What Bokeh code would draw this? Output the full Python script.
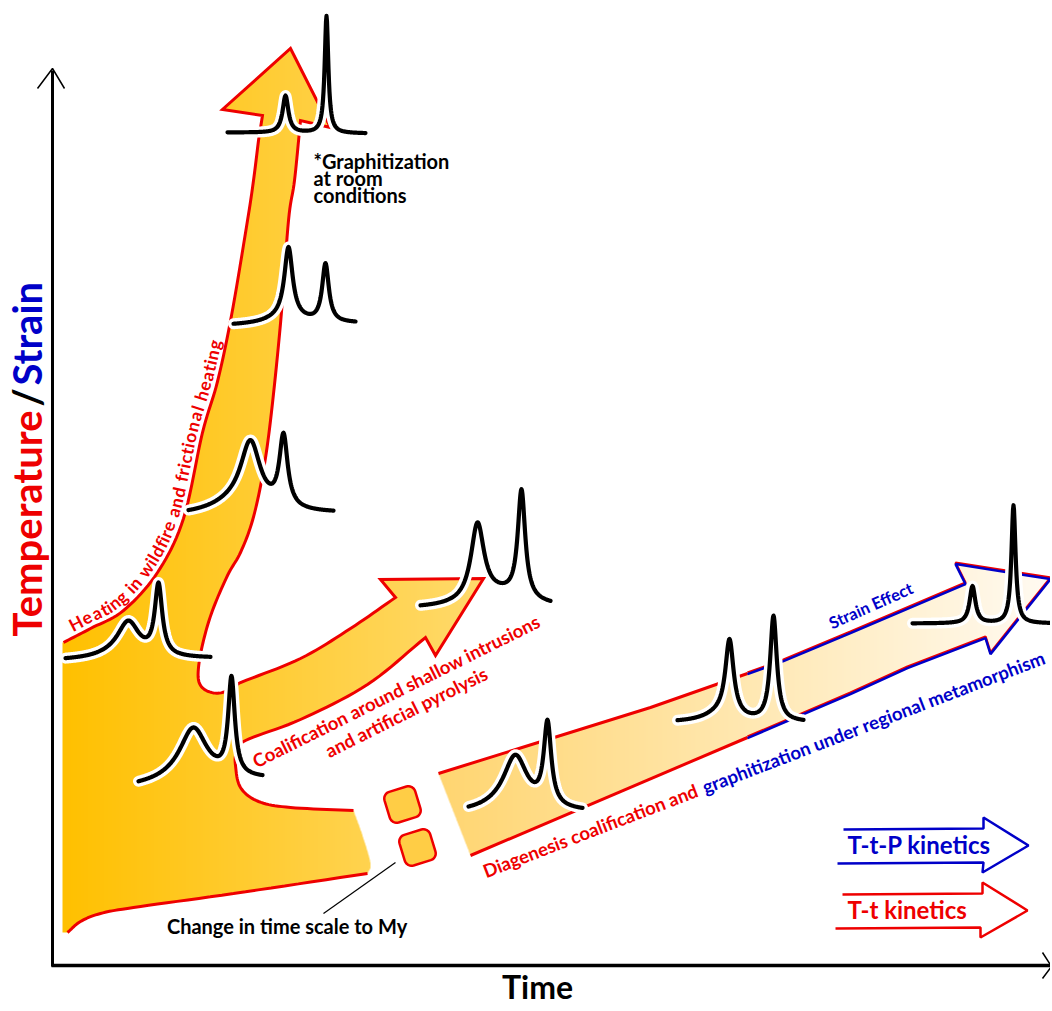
import numpy as np
from bokeh.plotting import figure
from bokeh.models import Range1d
from bokeh.embed import file_html
from bokeh.resources import INLINE
from bokeh.core.properties import value

# ------------------------------------------------------------------
# Values (pixel units of the picture)
# ------------------------------------------------------------------
heat_left = [(63, 642), (90, 628), (123, 610), (157, 572), (183, 518), (202, 432),
             (217, 381), (231, 315), (247, 220), (253, 180), (258, 140)]
heat_head = [(262, 115), (222, 109), (290, 48), (330, 127), (300, 120)]
heat_right = [(300, 120), (294, 180), (288, 220), (280, 323), (270, 420), (262, 475),
              (252, 520), (240, 552), (227, 575), (212, 610), (203, 640), (198, 667),
              (199, 683), (208, 691), (222, 692), (240, 682)]
coal_upper = [(240, 682), (300, 658), (350, 628), (395, 597)]
coal_head = [(380, 579), (483, 578), (435, 655), (425, 637)]
coal_lower = [(425, 637), (367, 684), (300, 719), (245, 740), (236, 752), (235, 765),
              (240, 787), (258, 801), (290, 807), (353, 810)]
block_right = [(353, 810), (362, 835), (370, 863), (367, 873)]
block_bottom = [(367, 873), (233, 893), (133, 907), (100, 913), (80, 921), (67, 932)]
block_left = [(62, 932), (62, 642)]

diag_shape = [(438, 773), (650, 707), (710, 686), (783, 660), (850, 632), (965, 583),
              (955, 563), (1050, 578), (990, 653), (985, 637), (907, 667), (850, 693),
              (745, 738), (470, 855)]
diag_red_upper = [(438, 773), (650, 707), (747, 673)]
diag_blue = [(747, 673), (783, 660), (850, 632), (965, 583), (955, 563), (1050, 578),
             (990, 653), (985, 637), (907, 667), (850, 693), (747, 737)]
diag_red_lower = [(747, 737), (470, 855)]

square_cx = [402, 417]
square_cy = [804, 847]

ttp_arrow = [(843, 829), (983, 828), (983, 817), (1028, 845), (982, 872), (983, 862), (837, 863)]
tt_arrow = [(842, 894), (982, 893), (982, 882), (1027, 910), (980, 937), (980, 927), (835, 928)]

# Raman spectra: x-span, baseline levels, peaks (centre, height, half width)
spec_start = [227, 233, 188, 65, 138, 420, 468, 677, 912]
spec_end = [365, 355, 333, 210, 262, 550, 582, 803, 1052]
spec_base_start = [132, 325, 515, 660, 787, 608, 813, 722, 623]
spec_base_end = [133, 323, 513, 658, 780, 607, 812, 722, 623]
spec_peaks = [
    [(285, 37, 3.5), (326, 117, 2.2)],
    [(285, 7, 22), (288, 70, 5), (325, 58, 4)],
    [(235, 10, 30), (250, 65, 12), (283, 71, 5)],
    [(120, 5, 25), (128, 33, 13), (158, 70, 4.5)],
    [(190, 10, 30), (193, 46, 16), (231, 96, 4)],
    [(500, 12, 30), (477, 77, 8), (521, 108, 4.5)],
    [(510, 8, 30), (515, 49, 14), (547, 82, 4.5)],
    [(720, 8, 20), (729, 76, 5), (773, 105, 4)],
    [(972, 37, 3.5), (1013, 118, 2.5)],
]

labels = ["*Graphitization", "at room", "conditions", "Change in time scale  to My",
          "Coalification around shallow intrusions", "and artificial pyrolysis",
          "Strain Effect", "T-t-P kinetics", "T-t kinetics", "Time"]
heating_label = "Heating in wildfire and frictional heating"
diag_label_red = "Diagenesis coalification and"
diag_label_blue = "graphitization under regional metamorphism"
yaxis_parts = ["Temperature", "/", "Strain"]

# ------------------------------------------------------------------
FONT = value("Lato")
RED = "#ee0000"
BLUE = "#0000c8"
H_IMG = 1011
BASE_SHIFT = 0.39   # renderer draws the alphabetic baseline this many em below the anchor


def Y(y):
    return H_IMG - np.asarray(y, dtype=float)


def smooth(pts, n=10):
    P = np.array(pts, dtype=float)
    if len(P) < 3:
        return P
    ext = np.vstack([2 * P[0] - P[1], P, 2 * P[-1] - P[-2]])
    out = []
    for i in range(1, len(ext) - 2):
        p0, p1, p2, p3 = ext[i - 1], ext[i], ext[i + 1], ext[i + 2]
        for t in np.linspace(0, 1, n, endpoint=False):
            t2, t3 = t * t, t * t * t
            out.append(0.5 * ((2 * p1) + (-p0 + p2) * t + (2 * p0 - 5 * p1 + 4 * p2 - p3) * t2
                              + (-p0 + 3 * p1 - 3 * p2 + p3) * t3))
    out.append(P[-1])
    return np.array(out)


def inside(px, py, poly):
    x = poly[:, 0]
    y = poly[:, 1]
    n = len(poly)
    res = np.zeros(px.shape, dtype=bool)
    j = n - 1
    for i in range(n):
        xi, yi, xj, yj = x[i], y[i], x[j], y[j]
        if yi != yj:
            cond = ((yi > py) != (yj > py)) & (px < (xj - xi) * (py - yi) / (yj - yi) + xi)
            res ^= cond
        j = i
    return res


p = figure(width=1050, height=1008, x_range=Range1d(0, 1050), y_range=Range1d(3, 1011),
           output_backend="svg", toolbar_location=None, x_axis_type=None, y_axis_type=None,
           min_border=0, outline_line_color=None, background_fill_color="white",
           border_fill_color="white")


def shape_image(poly, x0, x1, y0, y1, c0, c1, gx0, gx1):
    xs = np.arange(x0, x1, dtype=float)
    ys = np.arange(y0, y1, dtype=float)
    PX, PY = np.meshgrid(xs, ys)
    acc = np.zeros(PX.shape)
    for ox in (0.25, 0.75):
        for oy in (0.25, 0.75):
            acc += inside(PX + ox, PY + oy, poly)
    alpha = acc / 4.0
    t = np.clip((PX + 0.5 - gx0) / (gx1 - gx0), 0, 1)
    rgba = np.zeros(PX.shape + (4,), dtype=np.uint8)
    for k in range(3):
        rgba[..., k] = np.round(c0[k] + (c1[k] - c0[k]) * t).astype(np.uint8)
    rgba[..., 3] = np.round(alpha * 255).astype(np.uint8)
    img = np.ascontiguousarray(np.flipud(rgba)).view(np.uint32).reshape(PX.shape)
    p.image_rgba(image=[img], x=x0, y=float(Y(y1)), dw=x1 - x0, dh=y1 - y0)


# ---- filled shapes ----
hl = smooth(heat_left)
hr = smooth(heat_right)
cu = smooth(coal_upper)
cl = smooth(coal_lower)
br = smooth(block_right)
bb = smooth(block_bottom)
main_poly = np.vstack([hl, np.array(heat_head, float), hr, cu, np.array(coal_head, float),
                       cl, br, bb, np.array(block_left, float)])
shape_image(main_poly, 56, 490, 44, 940, (255, 192, 0), (255, 218, 110), 62, 490)

diag_poly = np.array(diag_shape, float)
shape_image(diag_poly, 434, 1050, 558, 860, (255, 213, 112), (255, 250, 242), 438, 1050)

# ---- rounded squares ----
for cx, cy in zip(square_cx, square_cy):
    s, r, a = 32.0, 7.0, np.radians(17)
    h = s / 2 - r
    pts = []
    for (qx, qy, a0) in [(h, h, 0), (-h, h, 90), (-h, -h, 180), (h, -h, 270)]:
        for th in np.radians(np.linspace(a0, a0 + 90, 10)):
            pts.append((qx + r * np.cos(th), qy + r * np.sin(th)))
    pts = np.array(pts)
    rx = pts[:, 0] * np.cos(a) - pts[:, 1] * np.sin(a)
    ry = pts[:, 0] * np.sin(a) + pts[:, 1] * np.cos(a)
    p.patch(cx + rx, Y(cy) + ry, fill_color="#ffcd45", line_color=RED, line_width=2.5)

p.line([395, 323], Y([862, 913]), line_color="black", line_width=1.2)

# ---- red / blue outlines ----
outline_main = np.vstack([hl, np.array(heat_head, float), hr, cu, np.array(coal_head, float), cl])
p.line(outline_main[:, 0], Y(outline_main[:, 1]), line_color=RED, line_width=3, line_join="miter")
p.line(bb[:, 0], Y(bb[:, 1]), line_color=RED, line_width=3)
for seg in (diag_red_upper, diag_red_lower):
    a_ = np.array(seg, float)
    p.line(a_[:, 0], Y(a_[:, 1]), line_color=RED, line_width=3)
db = np.array(diag_blue, float)
p.line(db[:, 0], Y(db[:, 1]) + 0.8, line_color=RED, line_width=2.5)
p.line(db[:, 0], Y(db[:, 1]) - 0.6, line_color=BLUE, line_width=2.5)

ta = np.array(ttp_arrow, float)
p.line(ta[:, 0], Y(ta[:, 1]), line_color=BLUE, line_width=2.5)
ra = np.array(tt_arrow, float)
p.line(ra[:, 0], Y(ra[:, 1]), line_color=RED, line_width=2.5)

# ---- axes ----
p.line([52, 52], Y([966, 70]), line_color="black", line_width=3)
p.line([37, 52, 64], Y([88, 68, 88]), line_color="black", line_width=1.5)
p.line([51, 1050], Y([965, 965]), line_color="black", line_width=3.5)
p.line([1042, 1051, 1042], Y([952, 966, 978]), line_color="black", line_width=1.5)

# ---- spectra ----
for x0, x1, b0, b1, peaks in zip(spec_start, spec_end, spec_base_start, spec_base_end, spec_peaks):
    xs = np.arange(x0, x1 + 0.01, 0.5)
    ys = b0 + (b1 - b0) * (xs - x0) / (x1 - x0)
    for c, amp, w in peaks:
        ys = ys - amp / (1 + ((xs - c) / w) ** 2)
    p.line(xs, Y(ys), line_color="white", line_width=11, line_cap="round", line_join="round")
    p.line(xs, Y(ys), line_color="black", line_width=4.2, line_cap="round", line_join="round")


# ---- texts (x, y = point on the wanted baseline) ----
def txt(x, y, s, color, size, angle=0.0, align="left", style="bold"):
    a = np.radians(angle)
    f = BASE_SHIFT * size
    ax = x - f * np.sin(a)
    ay = float(Y(y)) + f * np.cos(a)
    p.text(x=[ax], y=[ay], text=[s], angle=[a], text_color=color,
           text_font=FONT, text_font_size=value(f"{size}px"), text_font_style=style,
           text_align=align, text_baseline="alphabetic")


txt(313, 168, labels[0], "black", 20)
txt(313, 185, labels[1], "black", 20)
txt(313, 202, labels[2], "black", 20)
txt(289, 933, labels[3], "black", 20, align="center")
txt(399, 697, labels[4], RED, 18.5, angle=26.5, align="center")
txt(409, 718, labels[5], RED, 18.5, angle=26.5, align="center")
txt(873, 611, labels[6], BLUE, 16.5, angle=24, align="center")
txt(847, 853, labels[7], BLUE, 24)
txt(847, 918, labels[8], RED, 24)
txt(537, 998, labels[9], "black", 32, align="center")

txt(699, 796, diag_label_red, RED, 18.5, angle=21.0, align="right")
txt(705, 794, diag_label_blue, BLUE, 18.5, angle=21.0, align="left")

txt(42, 410, yaxis_parts[0], RED, 40, angle=90, align="right")
txt(42, 397, yaxis_parts[1], "black", 40, angle=90, align="center")
txt(42, 385, yaxis_parts[2], BLUE, 40, angle=90, align="left")

# curved label along the heating arrow
W_EM = {' ': .26, 'H': .72, 'e': .52, 'a': .50, 't': .34, 'i': .25, 'n': .55, 'g': .50,
        'w': .75, 'l': .25, 'd': .55, 'f': .32, 'r': .36, 'c': .45, 'o': .55, 'h': .55}
HSIZE = 17.5
path = smooth(heat_left, n=20)
Q = np.column_stack([path[:, 0], Y(path[:, 1])])
d = np.diff(Q, axis=0)
seg = np.hypot(d[:, 0], d[:, 1])
s_cum = np.concatenate([[0], np.cumsum(seg)])
tang = d / seg[:, None]
tang = np.vstack([tang, tang[-1]])
norm = np.column_stack([-tang[:, 1], tang[:, 0]])
B = Q + norm * (4.5 + BASE_SHIFT * HSIZE)
idx_end = np.argmax(path[:, 1] <= 342)
s0, s1 = 13.0, s_cum[idx_end]
widths = np.array([W_EM.get(ch, .5) for ch in heating_label])
starts = np.concatenate([[0], np.cumsum(widths)[:-1]])
scale = (s1 - s0) / widths.sum()
cx_, cy_, ang_ = [], [], []
for st, wd in zip(starts, widths):
    sp = s0 + st * scale
    sm = s0 + (st + wd / 2) * scale
    cx_.append(np.interp(sp, s_cum, B[:, 0]))
    cy_.append(np.interp(sp, s_cum, B[:, 1]))
    tx = np.interp(sm, s_cum, tang[:, 0])
    ty = np.interp(sm, s_cum, tang[:, 1])
    ang_.append(np.arctan2(ty, tx))
p.text(x=cx_, y=cy_, text=list(heating_label), angle=ang_, text_color=RED, text_font=FONT,
       text_font_size=value(f"{HSIZE}px"), text_font_style="bold", text_align="left",
       text_baseline="alphabetic")

open("out.html", "w").write(file_html(p, INLINE))
